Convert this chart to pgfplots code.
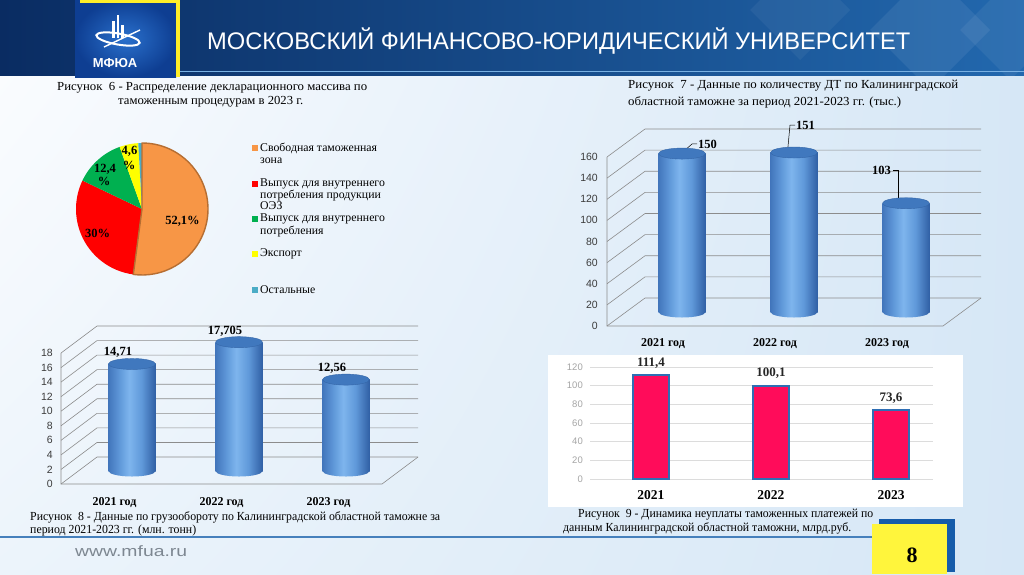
\documentclass[border=0pt]{standalone}
\usepackage{pgfplots}
\pgfplotsset{compat=1.18}
\usepackage{pgfplotstable}
\usetikzlibrary{shadings}
\usepackage{graphicx}
\usepackage{fontspec}
\setmainfont{Liberation Serif}
\newfontfamily\arial{Liberation Sans}

\definecolor{hdrA}{RGB}{10,44,98}
\definecolor{hdrB}{RGB}{16,64,128}
\definecolor{hdrC}{RGB}{34,104,174}
\definecolor{bgA}{RGB}{252,253,255}
\definecolor{bgB}{RGB}{214,231,246}
\definecolor{bgC}{RGB}{236,244,251}
\definecolor{cylA}{RGB}{66,118,188}
\definecolor{cylB}{RGB}{96,153,218}
\definecolor{cylC}{RGB}{126,181,237}
\definecolor{cylD}{RGB}{48,96,165}
\definecolor{cylT}{RGB}{64,120,190}
\definecolor{cylE}{RGB}{52,102,168}
\definecolor{gridc}{RGB}{140,140,140}
\definecolor{tickc}{RGB}{60,60,60}
\definecolor{tick9}{RGB}{165,165,165}
\definecolor{grid9}{RGB}{220,220,220}
\definecolor{pieO}{RGB}{247,150,70}
\definecolor{pieOe}{RGB}{182,110,50}
\definecolor{pieR}{RGB}{255,0,0}
\definecolor{pieG}{RGB}{0,176,80}
\definecolor{pieY}{RGB}{255,255,0}
\definecolor{pieC}{RGB}{75,172,198}
\definecolor{barR}{RGB}{255,12,90}
\definecolor{barE}{RGB}{46,110,180}
\definecolor{logoY}{RGB}{255,238,40}
\definecolor{boxY}{RGB}{255,245,60}
\definecolor{boxB}{RGB}{22,92,170}
\definecolor{lineB}{RGB}{70,128,188}
\definecolor{urlc}{RGB}{125,135,145}

\pgfdeclarehorizontalshading{cyl}{100bp}{color(0bp)=(cylA); color(25bp)=(cylA); color(37bp)=(cylB); color(47bp)=(cylC); color(60bp)=(cylB); color(75bp)=(cylD); color(100bp)=(cylD)}
\pgfdeclareplotmark{cyltop}{\pgfpathellipse{\pgfpointorigin}{\pgfqpoint{23.5pt}{0pt}}{\pgfqpoint{0pt}{5.5pt}}\pgfusepathqfillstroke}
\pgfdeclareplotmark{cylbot}{\pgfpathellipse{\pgfpointorigin}{\pgfqpoint{23.5pt}{0pt}}{\pgfqpoint{0pt}{5.5pt}}\pgfshadepath{cyl}{0}\pgfusepath{}}

% pie data (percent)
\def\pA{52.1}\def\pB{30}\def\pC{12.4}\def\pD{4.6}\def\pE{0.9}
\pgfmathsetmacro\aA{90}
\pgfmathsetmacro\aB{\aA-3.6*\pA}
\pgfmathsetmacro\aC{\aB-3.6*\pB}
\pgfmathsetmacro\aD{\aC-3.6*\pC}
\pgfmathsetmacro\aE{\aD-3.6*\pD}
\pgfmathsetmacro\aF{\aE-3.6*\pE}

\pgfplotstableread{
x y lab
0 150 150
1 151 151
2 103 103
}\dseven
\pgfplotstableread{
x y lab
0 14.71 14,71
1 17.705 17,705
2 12.56 12,56
}\deight
\pgfplotstableread{
x y lab
0 111.4 111,4
1 100.1 100,1
2 73.6 73,6
}\dnine

\newcommand\capline[3]{\node[anchor=base west, inner sep=0pt] at (#1) {\resizebox{#2pt}{\height}{\fontsize{12.3}{12.3}\selectfont #3}};}

\begin{document}
\begin{tikzpicture}[x=1pt,y=-1pt]
\useasboundingbox (0,0) rectangle (1024,574);
\shade[upper left=bgA, upper right=bgB, lower left=bgC, lower right=bgB] (0,0) rectangle (1024,574);
% header
\shade[left color=hdrA, middle color=hdrB, right color=hdrC] (0,0) rectangle (1024,75);
\begin{scope}
\clip (0,0) rectangle (1024,75);
\fill[white, opacity=0.07] (930,-30) -- (990,30) -- (930,90) -- (870,30) -- cycle;
\fill[white, opacity=0.06] (1010,-20) -- (1060,30) -- (1010,80) -- (960,30) -- cycle;
\fill[white, opacity=0.05] (800,-40) -- (850,10) -- (800,60) -- (750,10) -- cycle;
\end{scope}
\draw[color={rgb,255:red,120;green,176;blue,226}, line width=1.5pt] (180,71.5) -- (1024,71.5);
% logo
\shade[inner color={rgb,255:red,42;green,112;blue,204}, outer color={rgb,255:red,14;green,62;blue,146}] (75,0) rectangle (176,77);
\fill[logoY] (176,0) rectangle (180,77);
\fill[logoY] (80,0) rectangle (180,3);
\fill[white] (112,21) rectangle (114.5,38);
\fill[white] (116.5,15) rectangle (119,38);
\fill[white] (121,25) rectangle (123.5,38);
\draw[white, line width=2pt, rotate around={-10:(118,39)}] (118,39) ellipse [x radius=22, y radius=5.5];
\draw[white, line width=1.4pt] (104,47) -- (140,30);
\node[white, font=\arial\bfseries\fontsize{13}{13}\selectfont, inner sep=0pt, anchor=base] at (115,67) {МФЮА};
\node[anchor=base west, inner sep=0pt, white] at (207,49) {\resizebox{703pt}{\height}{\arial\fontsize{24}{24}\selectfont МОСКОВСКИЙ ФИНАНСОВО-ЮРИДИЧЕСКИЙ УНИВЕРСИТЕТ}};

% captions
\capline{57,90}{310}{Рисунок\ \ 6 - Распределение декларационного массива по}
\capline{118,104.5}{185}{таможенным процедурам в 2023 г.}
\capline{628,88.3}{330}{Рисунок\ \ 7 - Данные по количеству ДТ по Калининградской}
\capline{628,105}{273}{областной таможне за период 2021-2023 гг. (тыс.)}
\capline{30,520.7}{410}{Рисунок\ \ 8 - Данные по грузообороту по Калининградской областной таможне за}
\capline{30,533}{166}{период 2021-2023 гг. (млн. тонн)}
\capline{578,517.7}{295}{Рисунок\ \ 9 - Динамика неуплаты таможенных платежей по}
\capline{563,531}{288}{данным Калининградской областной таможни, млрд.руб.}

% ---------- pie (figure 6)
\begin{axis}[at={(142pt,-209pt)}, anchor=center, x=1pt, y=1pt, xmin=-66, xmax=66, ymin=-66, ymax=66, hide axis, clip=false]
\fill[pieR] (axis cs:0,0) -- ++(\aB:66pt) arc[start angle=\aB, end angle=\aC, radius=66pt] -- cycle;
\fill[pieG] (axis cs:0,0) -- ++(\aC:66pt) arc[start angle=\aC, end angle=\aD, radius=66pt] -- cycle;
\fill[pieY] (axis cs:0,0) -- ++(\aD:66pt) arc[start angle=\aD, end angle=\aE, radius=66pt] -- cycle;
\fill[pieC] (axis cs:0,0) -- ++(\aE:66pt) arc[start angle=\aE, end angle=\aF, radius=66pt] -- cycle;
\filldraw[fill=pieO, draw=pieOe, line width=1.4pt, line join=round] (axis cs:0,0) -- ++(\aA:66pt) arc[start angle=\aA, end angle=\aB, radius=66pt] -- cycle;
\end{axis}
\begin{scope}[every node/.style={inner sep=0pt, anchor=base, font=\bfseries\fontsize{12.5}{12.5}\selectfont}]
\node at (182.5,224) {52,1\%};
\node at (97.5,237) {30\%};
\node at (105,172) {12,4};
\node at (104,185) {\%};
\node at (129.5,154) {4,6};
\node at (129,169) {\%};
\end{scope}
% legend
\fill[pieO] (252.3,145) rectangle (258.3,151);
\fill[pieR] (252.3,180.7) rectangle (258.3,186.7);
\fill[pieG] (252.3,215.7) rectangle (258.3,221.7);
\fill[pieY] (252.3,250.7) rectangle (258.3,256.7);
\fill[pieC] (252.3,287.3) rectangle (258.3,293.3);
\begin{scope}[every node/.style={inner sep=0pt, anchor=base west, font=\fontsize{11.8}{11.8}\selectfont}]
\node at (260,151) {Свободная таможенная};
\node at (260,163.3) {зона};
\node at (260,186.7) {Выпуск для внутреннего};
\node at (260,198.3) {потребления продукции};
\node at (260,209.3) {ОЭЗ};
\node at (260,221.7) {Выпуск для внутреннего};
\node at (260,234) {потребления};
\node at (260,256.7) {Экспорт};
\node at (260,293.3) {Остальные};
\end{scope}

% ---------- figure 7: walls
\begin{axis}[at={(607pt,-326pt)}, anchor=south west, scale only axis, width=336pt, height=169pt,
  xmin=-0.5, xmax=2.5, ymin=0, ymax=160, clip=false,
  axis line style={draw=none}, major tick length=0pt,
  ytick={0,20,...,160}, xtick={0,1,2}, xticklabels={2021 год,2022 год,2023 год},
  /pgf/number format/assume math mode=true,
  yticklabel style={font=\arial\fontsize{10.5}{10.5}\selectfont, text=tickc, inner sep=0pt, xshift=-9pt},
  xticklabel style={font=\bfseries\fontsize{12}{12}\selectfont, inner sep=0pt, anchor=base, yshift=-20pt}]
\pgfplotsinvokeforeach{0,20,...,160}{\draw[gridc, line width=0.6pt] (axis cs:-0.5,#1) -- ++(38pt,28pt) -- ([shift={(38pt,28pt)}]axis cs:2.5,#1);}
\draw[gridc, line width=0.6pt] (axis cs:-0.5,160) -- (axis cs:-0.5,0) -- (axis cs:2.5,0) -- ++(38pt,28pt);
\end{axis}
% figure 7: cylinders
\begin{axis}[at={(626pt,-312pt)}, anchor=south west, scale only axis, width=336pt, height=169pt,
  xmin=-0.5, xmax=2.5, ymin=0, ymax=160, clip=false, hide axis]
\addplot[only marks, mark=cylbot] coordinates {(0,0) (1,0) (2,0)};
\addplot[ybar, bar width=47pt, bar shift=0pt, draw=none, shade, shading=cyl] coordinates {(0,150)};
\addplot[ybar, bar width=47pt, bar shift=0pt, draw=none, shade, shading=cyl] coordinates {(1,151)};
\addplot[ybar, bar width=47pt, bar shift=0pt, draw=none, shade, shading=cyl] coordinates {(2,103)};
\addplot[only marks, mark=cyltop, mark options={fill=cylT, draw=cylE, line width=0.4pt}] table[x=x,y=y]{\dseven};
\draw[black, line width=0.5pt] ([shift={(-7pt,-5.4pt)}]axis cs:0,150) -- ([shift={(10pt,9.6pt)}]axis cs:0,150) -- ([shift={(15pt,9.6pt)}]axis cs:0,150);
\node[anchor=west, inner sep=0pt, font=\bfseries\fontsize{12.5}{12.5}\selectfont] at ([shift={(16pt,9.6pt)}]axis cs:0,150) {150};
\draw[black, line width=0.5pt] ([shift={(-7pt,-4.5pt)}]axis cs:1,151) -- ([shift={(-4pt,27.5pt)}]axis cs:1,151) -- ([shift={(1pt,27.5pt)}]axis cs:1,151);
\node[anchor=west, inner sep=0pt, font=\bfseries\fontsize{12.5}{12.5}\selectfont] at ([shift={(2pt,27.5pt)}]axis cs:1,151) {151};
\draw[black, line width=0.5pt] ([shift={(-8pt,-4.8pt)}]axis cs:2,103) -- ([shift={(-8pt,33.2pt)}]axis cs:2,103) -- ([shift={(-13pt,33.2pt)}]axis cs:2,103);
\node[anchor=east, inner sep=0pt, font=\bfseries\fontsize{12.5}{12.5}\selectfont] at ([shift={(-15pt,33.2pt)}]axis cs:2,103) {103};
\end{axis}

% ---------- figure 8: walls
\begin{axis}[at={(61pt,-484pt)}, anchor=south west, scale only axis, width=321pt, height=131pt,
  xmin=-0.5, xmax=2.5, ymin=0, ymax=18, clip=false,
  axis line style={draw=none}, major tick length=0pt,
  ytick={0,2,...,18}, xtick={0,1,2}, xticklabels={2021 год,2022 год,2023 год},
  /pgf/number format/assume math mode=true,
  yticklabel style={font=\arial\fontsize{10.5}{10.5}\selectfont, text=tickc, inner sep=0pt, xshift=-8pt},
  xticklabel style={font=\bfseries\fontsize{12}{12}\selectfont, inner sep=0pt, anchor=base, yshift=-21pt}]
\pgfplotsinvokeforeach{0,2,...,18}{\draw[gridc, line width=0.6pt] (axis cs:-0.5,#1) -- ++(36pt,27pt) -- ([shift={(36pt,27pt)}]axis cs:2.5,#1);}
\draw[gridc, line width=0.6pt] (axis cs:-0.5,18) -- (axis cs:-0.5,0) -- (axis cs:2.5,0) -- ++(36pt,27pt);
\end{axis}
% figure 8: cylinders
\begin{axis}[at={(78.5pt,-471pt)}, anchor=south west, scale only axis, width=321pt, height=131pt,
  xmin=-0.5, xmax=2.5, ymin=0, ymax=18, clip=false, hide axis]
\addplot[only marks, mark=cylbot] coordinates {(0,0) (1,0) (2,0)};
\addplot[ybar, bar width=47pt, bar shift=0pt, draw=none, shade, shading=cyl] coordinates {(0,14.71)};
\addplot[ybar, bar width=47pt, bar shift=0pt, draw=none, shade, shading=cyl] coordinates {(1,17.705)};
\addplot[ybar, bar width=47pt, bar shift=0pt, draw=none, shade, shading=cyl] coordinates {(2,12.56)};
\addplot[only marks, mark=cyltop, mark options={fill=cylT, draw=cylE, line width=0.4pt},
  nodes near coords, point meta=explicit symbolic,
  every node near coord/.append style={inner sep=0pt, xshift=-14pt, yshift=6pt, font=\bfseries\fontsize{12.5}{12.5}\selectfont, text=black}]
  table[x=x,y=y,meta=lab]{\deight};
\end{axis}

% ---------- figure 9
\fill[white] (548,355) rectangle (963,507);
\begin{axis}[at={(590pt,-479pt)}, anchor=south west, scale only axis, width=343pt, height=112pt,
  xmin=-0.508, xmax=2.35, ymin=0, ymax=120, clip=false,
  axis line style={draw=none}, major tick length=0pt,
  ymajorgrids, grid style={grid9, line width=0.8pt},
  ytick={0,20,...,120}, xtick={0,1,2}, xticklabels={2021,2022,2023},
  /pgf/number format/assume math mode=true,
  yticklabel style={font=\arial\fontsize{9.5}{9.5}\selectfont, text=tick9, inner sep=0pt, xshift=-7pt},
  xticklabel style={font=\bfseries\fontsize{13.5}{13.5}\selectfont, inner sep=0pt, anchor=base, yshift=-20.5pt}]
\addplot[ybar, bar width=36pt, bar shift=0pt, fill=barR, draw=barE, line width=2pt,
  nodes near coords, point meta=explicit symbolic,
  every node near coord/.append style={inner sep=0pt, yshift=6pt, font=\bfseries\fontsize{13}{13}\selectfont, text={rgb,255:red,38;green,38;blue,38}}]
  table[x=x,y=y,meta=lab]{\dnine};
\end{axis}

% footer
\fill[lineB] (0,535.5) rectangle (872,538);
\node[anchor=base west, inner sep=0pt, text=urlc] at (75,556) {\resizebox{112pt}{\height}{\arial\fontsize{15}{15}\selectfont www.mfua.ru}};
\fill[boxB] (879,519) rectangle (955,572);
\fill[boxY] (872,524) rectangle (947,574);
\node[anchor=base, inner sep=0pt, font=\bfseries\fontsize{22}{22}\selectfont] at (912,562) {8};
\end{tikzpicture}
\end{document}
